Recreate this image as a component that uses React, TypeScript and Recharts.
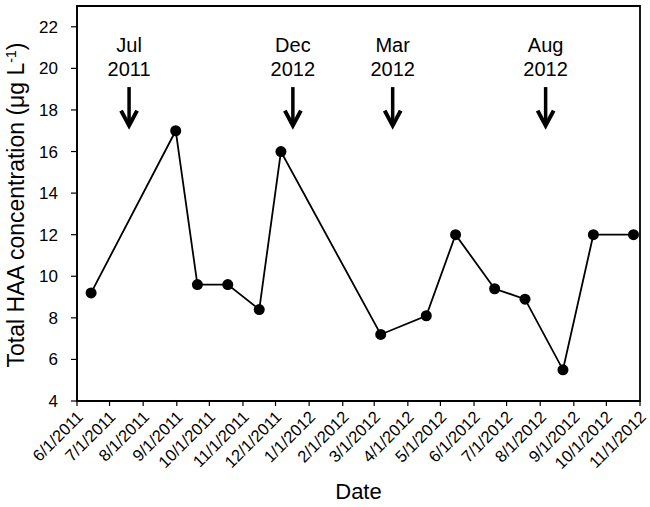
import React from 'react';
import { LineChart, Line, XAxis, YAxis, ReferenceLine, ReferenceArea } from 'recharts';

// sampling dates and total HAA (µg/L)
const sampleDates = [
  '2011-06-14', '2011-08-31', '2011-09-20', '2011-10-18', '2011-11-16', '2011-12-06',
  '2012-03-07', '2012-04-18', '2012-05-15', '2012-06-20', '2012-07-18', '2012-08-22',
  '2012-09-19', '2012-10-26',
];
const haaValues = [9.2, 17, 9.6, 9.6, 8.4, 16, 7.2, 8.1, 12, 9.4, 8.9, 5.5, 12, 12];

const monthTicks = [
  '2011-06-01', '2011-07-01', '2011-08-01', '2011-09-01', '2011-10-01', '2011-11-01',
  '2011-12-01', '2012-01-01', '2012-02-01', '2012-03-01', '2012-04-01', '2012-05-01',
  '2012-06-01', '2012-07-01', '2012-08-01', '2012-09-01', '2012-10-01', '2012-11-01',
];
const yTicks = [4, 6, 8, 10, 12, 14, 16, 18, 20, 22];

// event arrows
const eventMonths = ['Jul', 'Dec', 'Mar', 'Aug'];
const eventYears = ['2011', '2012', '2012', '2012'];
const eventDates = ['2011-07-19', '2011-12-17', '2012-03-18', '2012-08-06'];

const toTime = (s: string) => {
  const [y, m, d] = s.split('-').map(Number);
  return Date.UTC(y, m - 1, d);
};

const data = sampleDates.map((d, i) => ({ t: toTime(d), haa: haaValues[i] }));
const xTicks = monthTicks.map(toTime);
const xDomain = [xTicks[0], xTicks[xTicks.length - 1]];

const FONT = 'Liberation Sans, Arial, sans-serif';

const fmtDate = (t: number) => {
  const d = new Date(t);
  return `${d.getUTCMonth() + 1}/${d.getUTCDate()}/${d.getUTCFullYear()}`;
};

const DateTick = (props: any) => {
  const { x, y, payload } = props;
  return (
    <text
      x={x + 7}
      y={y + 10}
      transform={`rotate(-45, ${x + 7}, ${y + 10})`}
      textAnchor="end"
      fontFamily={FONT}
      fontSize={16.5}
      fill="#000"
    >
      {fmtDate(payload.value)}
    </text>
  );
};

const YLabel = () => (
  <text
    x={24}
    y={205}
    transform="rotate(-90, 24, 205)"
    textAnchor="middle"
    fontFamily={FONT}
    fontSize={23}
    fill="#000"
  >
    Total HAA concentration (μg L
    <tspan dy={-8} fontSize={14}>-1</tspan>
    <tspan dy={8}>)</tspan>
  </text>
);

const makeArrow = (month: string, year: string) => (props: any) => {
  const { x1, y1, y2 } = props;
  const x = x1;
  return (
    <g>
      <text x={x} y={y1 - 35} textAnchor="middle" fontFamily={FONT} fontSize={20} fill="#000">
        {month}
      </text>
      <text x={x} y={y1 - 11} textAnchor="middle" fontFamily={FONT} fontSize={20} fill="#000">
        {year}
      </text>
      <line x1={x} y1={y1} x2={x} y2={y2 - 3} stroke="#000" strokeWidth={3.5} />
      <polyline
        points={`${x - 8},${y2 - 17} ${x},${y2 - 2} ${x + 8},${y2 - 17}`}
        fill="none"
        stroke="#000"
        strokeWidth={4}
      />
    </g>
  );
};

export default function App() {
  return (
    <div style={{ position: 'absolute', left: 0, top: 0, background: '#fff' }}>
      <LineChart width={650} height={507} data={data} margin={{ top: 6, right: 10, left: 0, bottom: 0 }}>
        <XAxis
          dataKey="t"
          type="number"
          domain={xDomain}
          ticks={xTicks}
          interval={0}
          tick={<DateTick />}
          tickSize={5}
          axisLine={{ stroke: '#000', strokeWidth: 1.5 }}
          tickLine={{ stroke: '#000', strokeWidth: 1.2 }}
          height={106}
          label={{ value: 'Date', position: 'insideBottom', offset: 8, fontFamily: FONT, fontSize: 22, fill: '#000' }}
        />
        <YAxis
          type="number"
          domain={[4, 23]}
          ticks={yTicks}
          interval={0}
          width={77}
          tickSize={6}
          tickMargin={13}
          tick={{ fontFamily: FONT, fontSize: 17, fill: '#000' }}
          axisLine={{ stroke: '#000', strokeWidth: 1.5 }}
          tickLine={{ stroke: '#000', strokeWidth: 1.2 }}
          label={<YLabel />}
        />
        <ReferenceArea
          x1={xDomain[0]}
          x2={xDomain[1]}
          y1={4}
          y2={23}
          fill="none"
          fillOpacity={0}
          stroke="#000"
          strokeWidth={1.8}
        />
        {eventDates.map((d, i) => (
          <ReferenceLine
            key={d}
            segment={[{ x: toTime(d), y: 19.1 }, { x: toTime(d), y: 17.15 }]}
            shape={makeArrow(eventMonths[i], eventYears[i])}
          />
        ))}
        <Line
          dataKey="haa"
          stroke="#000"
          strokeWidth={1.8}
          dot={{ r: 5.5, fill: '#000', stroke: '#000', strokeWidth: 0 }}
          activeDot={false}
          isAnimationActive={false}
        />
      </LineChart>
    </div>
  );
}
